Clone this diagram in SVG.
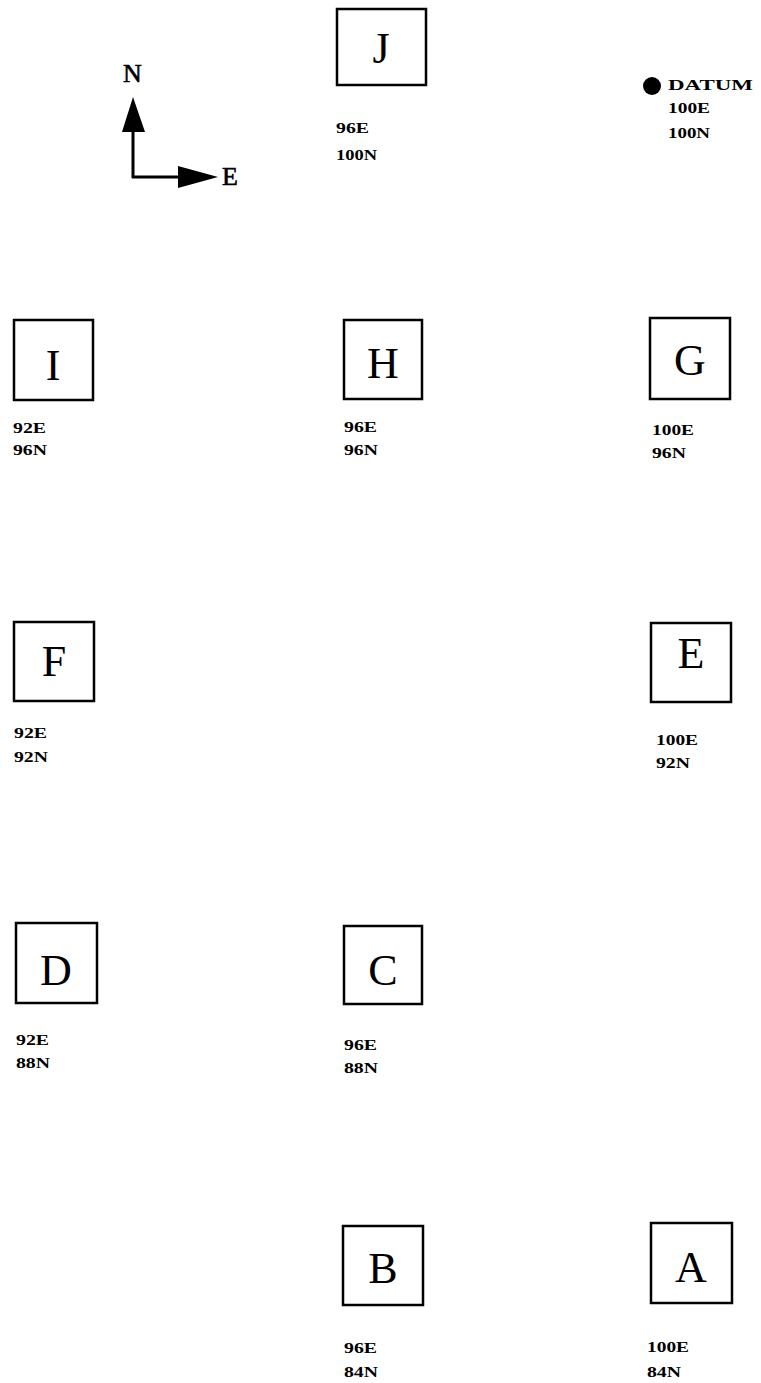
<svg xmlns="http://www.w3.org/2000/svg" width="761" height="1383" viewBox="0 0 761 1383">
<style>
.box{fill:#fff;stroke:#000;stroke-width:2.5}
.let{font-family:"Liberation Serif",serif;font-size:44px;text-anchor:middle;fill:#000}
.lab{font-family:"Liberation Serif",serif;font-weight:bold;font-size:15px;fill:#000}
.dir{font-family:"Liberation Serif",serif;font-size:26px;fill:#000;stroke:#000;stroke-width:0.6}
</style>
<rect width="761" height="1383" fill="#fff"/>
<g id="compass">
<line x1="133" y1="125" x2="133" y2="178" stroke="#000" stroke-width="3"/>
<line x1="132" y1="177" x2="182" y2="177" stroke="#000" stroke-width="3"/>
<polygon points="133,97 145,132 122,132" fill="#000"/>
<polygon points="178,166 218,177 178,188" fill="#000"/>
<text class="dir" x="123" y="82">N</text>
<text class="dir" x="222" y="185" font-size="30">E</text>
</g>
<g id="datum">
<ellipse cx="652" cy="86" rx="9" ry="9" fill="#000"/>
<text class="lab" x="668" y="90" font-size="13" textLength="85" lengthAdjust="spacingAndGlyphs">DATUM</text>
<text class="lab" x="668" y="113" textLength="42" lengthAdjust="spacingAndGlyphs">100E</text>
<text class="lab" x="668" y="138" textLength="42" lengthAdjust="spacingAndGlyphs">100N</text>
</g>
<g id="J">
<rect class="box" x="337" y="9" width="89" height="76"/>
<text class="let" x="381" y="63">J</text>
<text class="lab" x="336" y="133" textLength="33" lengthAdjust="spacingAndGlyphs">96E</text>
<text class="lab" x="336" y="160" textLength="41" lengthAdjust="spacingAndGlyphs">100N</text>
</g>
<g id="I">
<rect class="box" x="14" y="320" width="79" height="80"/>
<text class="let" x="53" y="380">I</text>
<text class="lab" x="13" y="433" textLength="33" lengthAdjust="spacingAndGlyphs">92E</text>
<text class="lab" x="13" y="455" textLength="34" lengthAdjust="spacingAndGlyphs">96N</text>
</g>
<g id="H">
<rect class="box" x="344" y="320" width="78" height="79"/>
<text class="let" x="383" y="378">H</text>
<text class="lab" x="344" y="432" textLength="33" lengthAdjust="spacingAndGlyphs">96E</text>
<text class="lab" x="344" y="455" textLength="34" lengthAdjust="spacingAndGlyphs">96N</text>
</g>
<g id="G">
<rect class="box" x="650" y="318" width="80" height="81"/>
<text class="let" x="690" y="375">G</text>
<text class="lab" x="652" y="435" textLength="42" lengthAdjust="spacingAndGlyphs">100E</text>
<text class="lab" x="652" y="458" textLength="34" lengthAdjust="spacingAndGlyphs">96N</text>
</g>
<g id="F">
<rect class="box" x="14" y="622" width="80" height="79"/>
<text class="let" x="54" y="676">F</text>
<text class="lab" x="14" y="738" textLength="33" lengthAdjust="spacingAndGlyphs">92E</text>
<text class="lab" x="14" y="762" textLength="34" lengthAdjust="spacingAndGlyphs">92N</text>
</g>
<g id="E">
<rect class="box" x="651" y="623" width="80" height="79"/>
<text class="let" x="691" y="668">E</text>
<text class="lab" x="656" y="745" textLength="42" lengthAdjust="spacingAndGlyphs">100E</text>
<text class="lab" x="656" y="768" textLength="34" lengthAdjust="spacingAndGlyphs">92N</text>
</g>
<g id="D">
<rect class="box" x="16" y="923" width="81" height="80"/>
<text class="let" x="56" y="985">D</text>
<text class="lab" x="16" y="1045" textLength="33" lengthAdjust="spacingAndGlyphs">92E</text>
<text class="lab" x="16" y="1068" textLength="34" lengthAdjust="spacingAndGlyphs">88N</text>
</g>
<g id="C">
<rect class="box" x="344" y="926" width="78" height="78"/>
<text class="let" x="383" y="985">C</text>
<text class="lab" x="344" y="1050" textLength="33" lengthAdjust="spacingAndGlyphs">96E</text>
<text class="lab" x="344" y="1073" textLength="34" lengthAdjust="spacingAndGlyphs">88N</text>
</g>
<g id="B">
<rect class="box" x="343" y="1226" width="80" height="79"/>
<text class="let" x="383" y="1283">B</text>
<text class="lab" x="344" y="1353" textLength="33" lengthAdjust="spacingAndGlyphs">96E</text>
<text class="lab" x="344" y="1377" textLength="34" lengthAdjust="spacingAndGlyphs">84N</text>
</g>
<g id="A">
<rect class="box" x="651" y="1223" width="81" height="80"/>
<text class="let" x="691" y="1282">A</text>
<text class="lab" x="647" y="1352" textLength="42" lengthAdjust="spacingAndGlyphs">100E</text>
<text class="lab" x="647" y="1377" textLength="34" lengthAdjust="spacingAndGlyphs">84N</text>
</g>
</svg>
